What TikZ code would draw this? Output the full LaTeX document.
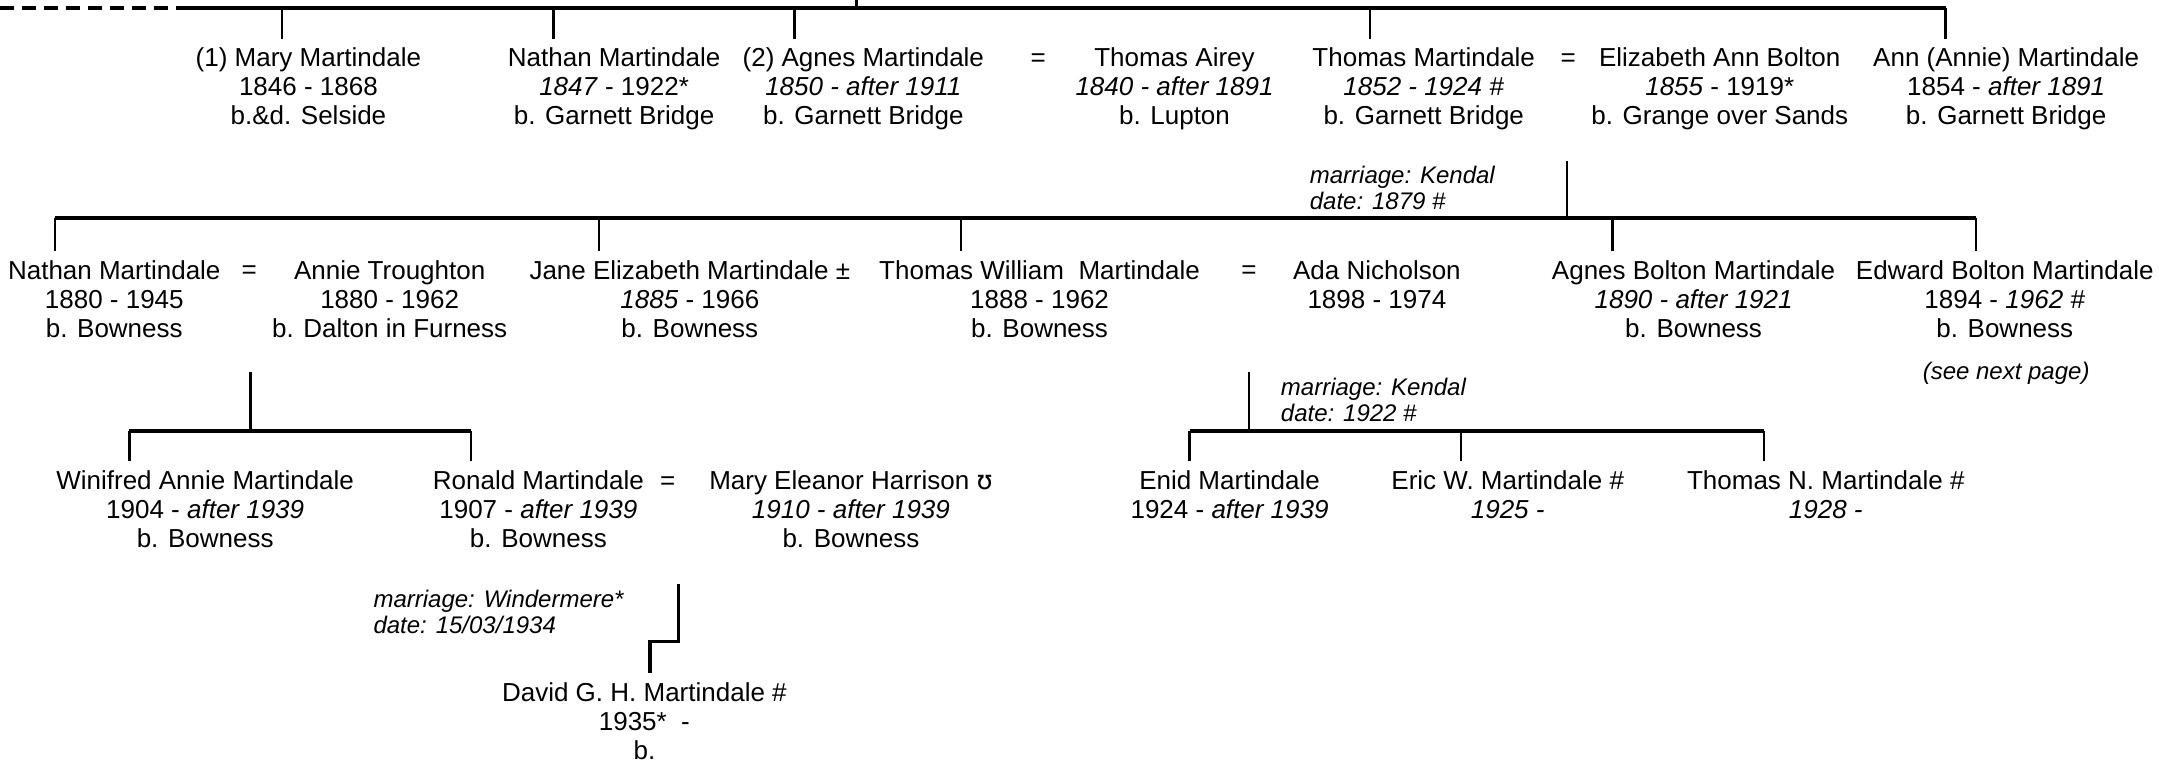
\documentclass[tikz,border=0pt]{standalone}
\usepackage{fontspec}
\setmainfont{Liberation Sans}
\newfontfamily\ipafont{DejaVu Sans}

\begin{document}
\begin{tikzpicture}[x=0.6885pt,y=-0.6885pt,
person/.style={%
font={\fontsize{13pt}{14.5pt}\selectfont},
align=center,
anchor=north,
inner sep=0pt,
outer sep=4.8pt,
},
wed/.style={%
font={\fontsize{13pt}{14.5pt}\selectfont},
text height=9.4pt,
anchor=north,
inner sep=0pt,
outer sep=4.8pt,
},
note/.style={%
font={\fontsize{12pt}{13.1pt}\selectfont\itshape},
align=left,
anchor=north west,
inner sep=0pt,
},
bar/.style={%
line width=2pt,
},
drop/.style={%
line width=1.2pt,
}
]
\useasboundingbox (0,0) rectangle (1568,553);

%Generation 1
\node[person](mary)at(224,28){(1) Mary Martindale\\1846 - 1868\\b.\&d. Selside};
\node[person](nathan)at(446,28){Nathan Martindale\\\textit{1847} - 1922*\\b. Garnett Bridge};
\node[person](agnes)at(627,28){(2) Agnes Martindale\\\textit{1850 - after 1911}\\b. Garnett Bridge};
\node[wed](eqa)at(754,28){=};
\node[person](airey)at(853,28){Thomas Airey\\\textit{1840 - after 1891}\\b. Lupton};
\node[person](thomas)at(1034,28){Thomas Martindale\\\textit{1852 - 1924 \#}\\b. Garnett Bridge};
\node[wed](eqb)at(1139,28){=};
\node[person](eliza)at(1249,28){Elizabeth Ann Bolton\\\textit{1855} - 1919*\\b. Grange over Sands};
\node[person](ann)at(1457,28){Ann (Annie) Martindale\\1854 - \textit{after 1891}\\b. Garnett Bridge};

\coordinate(up)at(622,-4);
\coordinate(topw)at(130,6);
\coordinate(tope)at(1413,6);
\draw[bar,dash pattern=on 7pt off 4pt](0,6)--(topw);
\draw[bar](topw)--(tope);
\draw[drop](up)--(up |- topw);
\draw[drop](205,6)--(205,0 |- mary.north);
\draw[drop](402,6)--(402,0 |- nathan.north);
\draw[drop](577,6)--(577,0 |- agnes.north);
\draw[drop](995,6)--(995,0 |- thomas.north);
\draw[drop](tope)--(tope |- ann.north);

%Generation 2
\node[note](wedA)at(951,120){marriage: Kendal\\date: 1879 \#};
\coordinate(famA)at(1138,117);
\coordinate(midw)at(40,158);
\coordinate(mide)at(1435,158);
\draw[drop](famA)--(famA |- midw);
\draw[bar](midw)--(mide);

\node[person](nathanb)at(83,182){Nathan Martindale\\1880 - 1945\\b. Bowness};
\node[wed](eqc)at(181,182){=};
\node[person](annie)at(283,182){Annie Troughton\\1880 - 1962\\b. Dalton in Furness};
\node[person](jane)at(501,182){Jane Elizabeth Martindale ±\\\textit{1885} - 1966\\b. Bowness};
\node[person](thomasw)at(755,182){Thomas William\ \ Martindale\\1888 - 1962\\b. Bowness};
\node[wed](eqd)at(907,182){=};
\node[person](ada)at(1000,182){Ada Nicholson\\1898 - 1974};
\node[person](agnesb)at(1230,182){Agnes Bolton Martindale\\\textit{1890 - after 1921}\\b. Bowness};
\node[person](edward)at(1456,182){Edward Bolton Martindale\\1894 - \textit{1962 \#}\\b. Bowness};
\node[note,anchor=center](seenext)at(1457,271){(see next page)};

\draw[drop](midw)--(midw |- nathanb.north);
\draw[drop](435,158)--(435,0 |- jane.north);
\draw[drop](698,158)--(698,0 |- thomasw.north);
\draw[drop](1171,158)--(1171,0 |- agnesb.north);
\draw[drop](mide)--(mide |- edward.north);

%Generation 3
\coordinate(famB)at(182,270);
\coordinate(lowaw)at(94,313);
\coordinate(lowae)at(342,313);
\draw[drop](famB)--(famB |- lowaw);
\draw[bar](lowaw)--(lowae);

\node[note](wedB)at(930,274){marriage: Kendal\\date: 1922 \#};
\coordinate(famC)at(907,270);
\coordinate(lowbw)at(864,313);
\coordinate(lowbe)at(1281,313);
\draw[drop](famC)--(famC |- lowbw);
\draw[bar](lowbw)--(lowbe);

\node[person](winifred)at(149,335){Winifred Annie Martindale\\1904 - \textit{after 1939}\\b. Bowness};
\node[person](ronald)at(391,335){Ronald Martindale\\1907 - \textit{after 1939}\\b. Bowness};
\node[wed](eqe)at(485,335){=};
\node[person](maryh)at(618,335){Mary Eleanor Harrison {\ipafont ʊ}\\\textit{1910 - after 1939}\\b. Bowness};
\node[person](enid)at(893,335){Enid Martindale\\1924 - \textit{after 1939}};
\node[person](eric)at(1095,335){Eric W. Martindale \#\\\textit{1925 -}};
\node[person](thomasn)at(1326,335){Thomas N. Martindale \#\\\textit{1928 -}};

\draw[drop](lowaw)--(lowaw |- winifred.north);
\draw[drop](lowae)--(lowae |- ronald.north);
\draw[drop](lowbw)--(lowbw |- enid.north);
\draw[drop](1061,313)--(1061,0 |- eric.north);
\draw[drop](lowbe)--(lowbe |- thomasn.north);

%Generation 4
\node[note](wedC)at(271,428){marriage: Windermere*\\date: 15/03/1934};
\coordinate(famD)at(493,424);
\coordinate(kink)at(472,466);
\node[person](david)at(468,489){David G. H. Martindale \#\\1935*\ \ -\\b.};
\draw[bar,line width=1.6pt](famD)|-(kink)--(kink |- david.north);
\end{tikzpicture}
\end{document}
